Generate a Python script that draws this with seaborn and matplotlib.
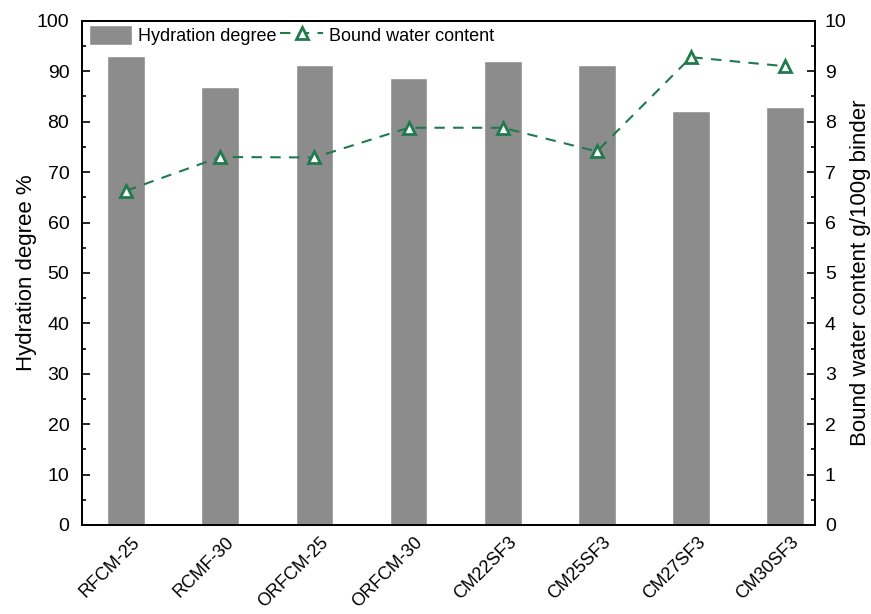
import matplotlib
matplotlib.use("Agg")
import matplotlib.pyplot as plt
import matplotlib.transforms as mtransforms
import seaborn as sns
import pandas as pd
from matplotlib.ticker import MultipleLocator

# data
samples = ["RFCM-25", "RCMF-30", "ORFCM-25", "ORFCM-30",
           "CM22SF3", "CM25SF3", "CM27SF3", "CM30SF3"]
hydration = [93.1, 86.8, 91.2, 88.6, 92.1, 91.3, 82.1, 82.9]
bound_water = [6.63, 7.30, 7.29, 7.88, 7.88, 7.41, 9.28, 9.10]

df = pd.DataFrame({"sample": samples, "hyd": hydration, "bw": bound_water})

sns.set_style("white")
plt.rcParams["font.family"] = ["Liberation Sans", "DejaVu Sans"]
plt.rcParams["text.color"] = "black"
plt.rcParams["axes.labelcolor"] = "black"
plt.rcParams["xtick.color"] = "black"
plt.rcParams["ytick.color"] = "black"

bar_color = "#8c8c8c"
line_color = "#217a4e"

fig, ax = plt.subplots(figsize=(8.71, 6.14), dpi=100)

sns.barplot(data=df, x="sample", y="hyd", color=bar_color, width=0.4,
            saturation=1, ax=ax, label="Hydration degree")
ax.set_ylim(0, 100)
ax.set_xlim(-0.47, 7.32)
ax.yaxis.set_major_locator(MultipleLocator(10))
ax.yaxis.set_minor_locator(MultipleLocator(5))
ax.set_xlabel("")
ax.set_ylabel("Hydration degree %", fontsize=16, labelpad=0)
ax.tick_params(axis="both", which="both", direction="in", labelsize=14)
ax.tick_params(which="major", length=6, width=1.2)
ax.tick_params(which="minor", length=3, width=1.2, left=True)
ax.tick_params(axis="x", length=6, labelsize=13)
ax.tick_params(axis="y", pad=9)

# shift rotated x labels a little right/down like the reference
offset = mtransforms.ScaledTranslation(4 / 72, -3 / 72, fig.dpi_scale_trans)
for lbl in ax.get_xticklabels():
    lbl.set_rotation(45)
    lbl.set_ha("right")
    lbl.set_rotation_mode("anchor")
    lbl.set_transform(lbl.get_transform() + offset)

ax2 = ax.twinx()
sns.lineplot(data=df, x="sample", y="bw", ax=ax2, color=line_color,
             linestyle=(0, (5, 4)), linewidth=1.5, marker="^", markersize=9,
             markerfacecolor="white", markeredgecolor=line_color,
             markeredgewidth=2, label="Bound water content")
ax2.set_ylim(0, 10)
ax2.yaxis.set_major_locator(MultipleLocator(1))
ax2.yaxis.set_minor_locator(MultipleLocator(0.5))
ax2.set_ylabel("Bound water content g/100g binder", fontsize=16, labelpad=2)
ax2.tick_params(axis="y", which="both", direction="in", labelsize=14, right=True)
ax2.tick_params(which="major", length=6, width=1.2, pad=7)
ax2.tick_params(which="minor", length=3, width=1.2)

for a in (ax, ax2):
    for s in a.spines.values():
        s.set_linewidth(1.3)
        s.set_color("black")

h1, l1 = ax.get_legend_handles_labels()
h2, l2 = ax2.get_legend_handles_labels()
if ax2.get_legend():
    ax2.get_legend().remove()
ax.legend(h1 + h2, l1 + l2, loc="upper left", ncol=2, frameon=False,
          fontsize=13, handlelength=2.4, handleheight=1.3, columnspacing=0.2,
          handletextpad=0.3, borderaxespad=0.0, bbox_to_anchor=(0.0, 1.006))

fig.subplots_adjust(left=0.094, right=0.936, top=0.966, bottom=0.145)
fig.savefig("out.png", dpi=100)
